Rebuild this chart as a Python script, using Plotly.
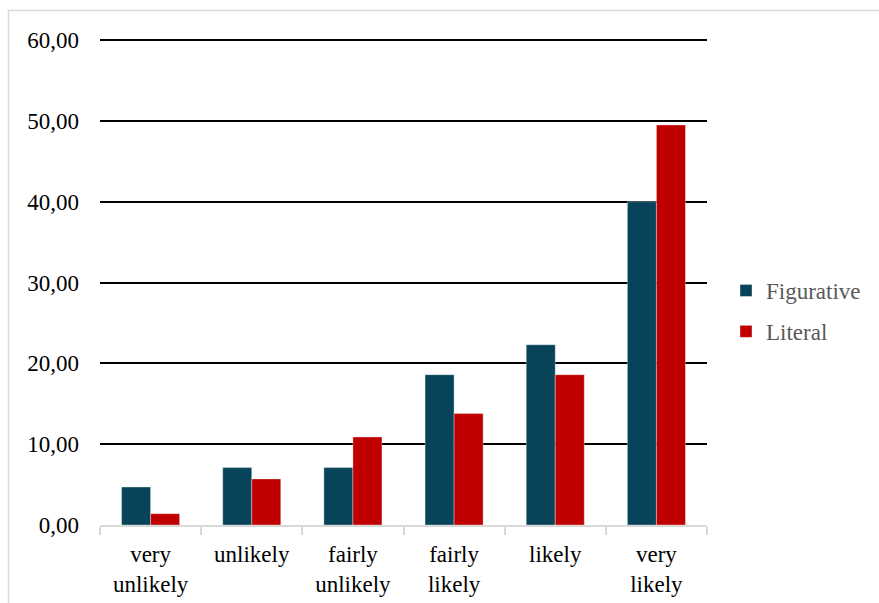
import plotly.graph_objects as go

# Survey response distribution (%)
categories = ["very<br>unlikely", "unlikely", "fairly<br>unlikely", "fairly<br>likely", "likely", "very<br>likely"]
figurative = [4.7, 7.1, 7.1, 18.6, 22.3, 40.0]
literal = [1.4, 5.7, 10.9, 13.8, 18.6, 49.5]
y_ticks = [0, 10, 20, 30, 40, 50, 60]

W, H = 879, 603
Y_MAX = 60.5
L, R, T, B = 100, 172, 36, 78
pw, ph = W - L - R, H - T - B

FONT = "Liberation Serif"

fig = go.Figure()
fig.add_trace(go.Bar(
    name="Figurative", x=categories, y=figurative, legendgroup="fig",
    marker=dict(color="#074459", line=dict(color="rgba(255,255,255,0.35)", width=1)),
))
fig.add_trace(go.Bar(
    name="Literal", x=categories, y=literal, legendgroup="lit",
    marker=dict(color="#C00000", line=dict(color="rgba(255,255,255,0.35)", width=1)),
))

def px_x(v):
    return (v - L) / pw

def px_y(v):
    return (H - B - v) / ph

# outer chart frame (left and top edges visible)
fig.add_shape(type="path", xref="paper", yref="paper",
              path=f"M {px_x(8.5)},{px_y(H + 5)} L {px_x(8.5)},{px_y(10.5)} L {px_x(W + 5)},{px_y(10.5)}",
              line=dict(color="#d9d9d9", width=1.5), layer="above")

fig.update_layout(
    width=W, height=H,
    margin=dict(l=L, r=R, t=T, b=B, autoexpand=False),
    paper_bgcolor="white", plot_bgcolor="white",
    barmode="group", bargap=0.426, bargroupgap=0,
    separators=",.",
    font=dict(family=FONT, size=23, color="#000000"),
    showlegend=True,
    legend=dict(
        xref="container", yref="container",
        x=726 / W, y=1 - 311 / H, xanchor="left", yanchor="middle",
        font=dict(family=FONT, size=23, color="#595959"),
        tracegroupgap=8, traceorder="grouped",
        bgcolor="rgba(0,0,0,0)",
    ),
)
fig.update_xaxes(
    showline=True, linecolor="#d9d9d9", linewidth=2, automargin=False,
    ticks="outside", tickson="boundaries", ticklen=8, tickcolor="#d9d9d9", tickwidth=2,
    showgrid=False, ticklabelstandoff=7,
    tickfont=dict(family=FONT, size=23, color="#000000"),
)
fig.update_yaxes(
    range=[0, Y_MAX], tickvals=y_ticks, tickformat=".2f", automargin=False,
    showgrid=True, gridcolor="#000000", gridwidth=1.5,
    zeroline=False, showline=False, ticks="",
    ticklabelstandoff=20,
    tickfont=dict(family=FONT, size=23, color="#000000"),
)

fig.write_html("out.html")
